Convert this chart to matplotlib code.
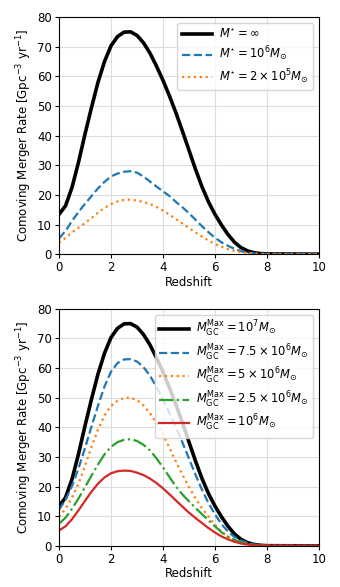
import numpy as np
import matplotlib.pyplot as plt

plt.rcParams['font.size'] = 8.5
plt.rcParams['mathtext.fontset'] = 'dejavusans'

# redshift grid (0 to 8 in steps of 0.25, then 10)
z = [0, 0.25, 0.5, 0.75, 1, 1.25, 1.5, 1.75, 2, 2.25, 2.5, 2.75, 3, 3.25, 3.5, 3.75,
     4, 4.25, 4.5, 4.75, 5, 5.25, 5.5, 5.75, 6, 6.25, 6.5, 6.75, 7, 7.25, 7.5, 7.75, 8, 10]

# top panel: cutoff mass M*
rate_inf = [13.4, 16.3, 22.5, 31, 40.5, 49.5, 58, 65, 70.3, 73.4, 74.9, 75, 73.8, 71.3, 67.8, 63.4,
            58.6, 53.3, 47.6, 41.4, 35, 28.6, 22.7, 17.6, 13.4, 9.8, 6.6, 4, 2.2, 1.1, 0.5, 0.2, 0.08, 0]
rate_1e6 = [5.3, 7.8, 11.2, 14.2, 17, 19.6, 22.2, 24.4, 26.2, 27.2, 27.8, 28, 27.5, 26.2, 24.5, 22.8,
            21.2, 19.6, 17.6, 15.8, 13.8, 11.6, 9.4, 7.4, 5.5, 4, 2.8, 1.8, 1, 0.5, 0.25, 0.1, 0.05, 0]
rate_2e5 = [3.8, 5.5, 7.3, 8.9, 10.5, 12.2, 14, 15.6, 16.9, 17.8, 18.3, 18.4, 18.1, 17.6, 16.9, 15.9,
            14.7, 13.3, 11.8, 10.3, 8.8, 7.3, 5.9, 4.6, 3.4, 2.5, 1.7, 1.1, 0.7, 0.4, 0.2, 0.1, 0.05, 0]

# bottom panel: maximum GC mass
rate_gc_1e7 = rate_inf
rate_gc_75e5 = [12.2, 15.5, 20.2, 26.2, 33, 40.3, 47.3, 53.8, 58.8, 61.7, 62.9, 63, 62.2, 60.3, 57.4, 53.6,
                49.3, 44.8, 40, 34.8, 29.4, 24, 18.9, 14.4, 10.6, 7.3, 4.8, 3, 1.8, 1, 0.5, 0.2, 0.08, 0]
rate_gc_5e6 = [9.8, 12.5, 16.3, 21, 27, 33.4, 39.3, 44, 47.2, 49, 49.9, 50, 49.2, 47.4, 44.7, 41.4,
               37.6, 33, 28.4, 24, 19.8, 16, 12.7, 9.8, 7.1, 4.8, 3.1, 1.9, 1.1, 0.6, 0.3, 0.15, 0.05, 0]
rate_gc_25e5 = [7.5, 9.5, 12.5, 16, 19.8, 23.7, 27.5, 30.9, 33.4, 35, 35.8, 36, 35.4, 34.1, 32.2, 29.5,
                26.5, 23.2, 20, 17.3, 15, 12.8, 10.7, 8.6, 6.6, 4.6, 3.1, 2, 1.2, 0.7, 0.35, 0.15, 0.05, 0]
rate_gc_1e6 = [5.2, 6.6, 9, 12, 15.2, 18.3, 21, 23.1, 24.5, 25.2, 25.4, 25.3, 24.7, 23.9, 22.7, 21.2,
               19.4, 17.4, 15.3, 13.2, 11.2, 9.4, 7.7, 6, 4.5, 3.2, 2.2, 1.4, 0.8, 0.45, 0.25, 0.1, 0.05, 0]

fig = plt.figure(figsize=(3.4, 5.87), dpi=100)
ax1 = fig.add_axes([0.1735, 0.567, 0.765, 0.404])
ax2 = fig.add_axes([0.1735, 0.070, 0.765, 0.404])

ax1.plot(z, rate_inf, color='black', lw=2.6, label=r'$M^{\star}=\infty$')
ax1.plot(z, rate_1e6, color='#1f77b4', lw=1.6, ls='--', label=r'$M^{\star}=10^6M_{\odot}$')
ax1.plot(z, rate_2e5, color='#ff7f0e', lw=1.6, ls=':', label=r'$M^{\star}=2\times10^5M_{\odot}$')

ax2.plot(z, rate_gc_1e7, color='black', lw=2.6, label=r'$M_{\rm GC}^{\rm Max}=10^7M_{\odot}$')
ax2.plot(z, rate_gc_75e5, color='#1f77b4', lw=1.6, ls='--', label=r'$M_{\rm GC}^{\rm Max}=7.5\times10^6M_{\odot}$')
ax2.plot(z, rate_gc_5e6, color='#ff7f0e', lw=1.6, ls=':', label=r'$M_{\rm GC}^{\rm Max}=5\times10^6M_{\odot}$')
ax2.plot(z, rate_gc_25e5, color='#2ca02c', lw=1.6, ls='-.', label=r'$M_{\rm GC}^{\rm Max}=2.5\times10^6M_{\odot}$')
ax2.plot(z, rate_gc_1e6, color='#d62728', lw=1.6, label=r'$M_{\rm GC}^{\rm Max}=10^6M_{\odot}$')

for ax in (ax1, ax2):
    ax.set_xlim(0, 10)
    ax.set_ylim(0, 80)
    ax.set_xticks([0, 2, 4, 6, 8, 10])
    ax.set_yticks(np.arange(0, 81, 10))
    ax.grid(True, color='#dddddd', lw=0.8)
    ax.set_axisbelow(True)
    ax.set_xlabel('Redshift', labelpad=1)
    ax.set_ylabel(r'Comoving Merger Rate [Gpc$^{-3}$ yr$^{-1}$]', labelpad=2)
    ax.tick_params(length=3, pad=2)
    ax.legend(loc='upper right', fontsize=8.3, handlelength=2.6, borderpad=0.4,
              labelspacing=0.3, handletextpad=0.6)

fig.savefig('out.png', dpi=100)
